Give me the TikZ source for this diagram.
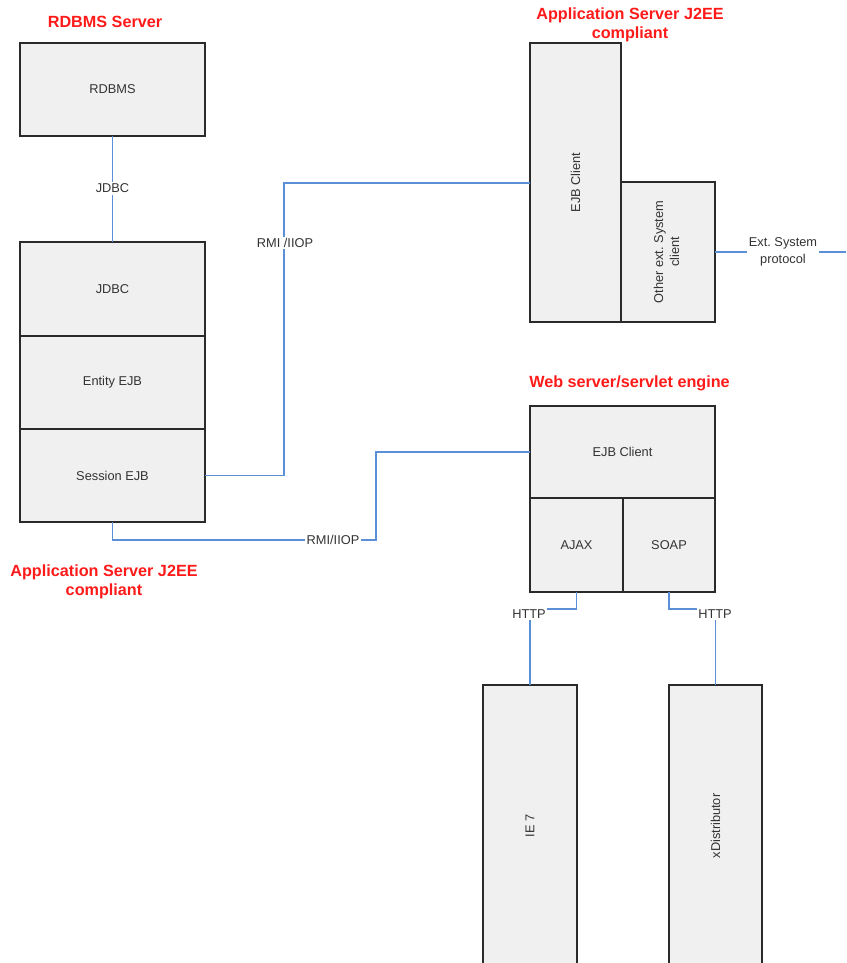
\documentclass[tikz,border=0pt]{standalone}
\usepackage{fontspec}
\setmainfont{Liberation Sans}
\frenchspacing
\definecolor{boxfill}{HTML}{F0F0F0}
\definecolor{boxline}{HTML}{2A2A2A}
\definecolor{wire}{HTML}{5B8FD6}
\definecolor{titlered}{HTML}{FF1A1A}
\definecolor{txt}{HTML}{333333}
\tikzset{
  box/.style={draw=boxline, fill=boxfill, line width=1.2pt, text=txt,
    font=\fontsize{12.8}{16}\selectfont, align=center, inner sep=0pt, outer sep=0pt},
  conn/.style={draw=wire, line width=1.2pt},
  lbl/.style={fill=white, text=txt, font=\fontsize{12.8}{16.5}\selectfont,
    align=center, inner sep=1.5pt},
  title/.style={text=titlered, font=\bfseries\fontsize{16.2}{19}\selectfont, align=center}
}
\begin{document}
\begin{tikzpicture}[x=1pt, y=-1pt]
\useasboundingbox (0,0) rectangle (846,963);
\clip (0,0) rectangle (846,963);

% group titles
\node[title] (tRdbms) at (105,22) {RDBMS Server};
\node[title] (tAppTop) at (630,25) {Application Server J2EE\\compliant};
\node[title] (tAppLow) at (104,582) {Application Server J2EE\\compliant};
\node[title] (tWeb) at (629.5,383) {Web server/servlet engine};

% database server
\node[box, minimum width=185pt, minimum height=93pt] (rdbms) at (112.5,89.5) {RDBMS};

% application server stack
\node[box, minimum width=185pt, minimum height=94pt] (jdbc) at (112.5,289) {JDBC};
\node[box, minimum width=185pt, minimum height=93pt] (entity) at (112.5,382.5) {Entity EJB};
\node[box, minimum width=185pt, minimum height=93pt] (sess) at (112.5,475.5) {Session EJB};

% upper application server
\node[box, minimum width=91pt, minimum height=279pt] (ejbc) at (575.5,182.5) {\rotatebox{90}{EJB Client}};
\node[box, minimum width=94pt, minimum height=140pt] (other) at (668,252) {\rotatebox{90}{\begin{tabular}{@{}c@{}}Other ext. System\\client\end{tabular}}};

% web server
\node[box, minimum width=185pt, minimum height=92pt] (webejb) at (622.5,452) {EJB Client};
\node[box, minimum width=93pt, minimum height=94pt] (ajax) at (576.5,545) {AJAX};
\node[box, minimum width=92pt, minimum height=94pt] (soap) at (669,545) {SOAP};

% clients
\node[box, minimum width=94pt, minimum height=282pt] (ie) at (530,826) {\rotatebox{90}{IE 7}};
\node[box, minimum width=93pt, minimum height=282pt] (xd) at (715.5,826) {\rotatebox{90}{xDistributor}};

% connectors
\coordinate (rmiTop) at (284,183);
\coordinate (rmiLow) at (376,540);
\coordinate (httpA) at (530,609);
\coordinate (httpS) at (715.5,609);
\coordinate (extEnd) at (846,252);

\draw[conn] (rdbms.south) -- (jdbc.north);
\draw[conn] (sess.east) -| (rmiTop) -- (ejbc.west |- rmiTop);
\draw[conn] (sess.south) |- (rmiLow) |- (webejb.west);
\draw[conn] (ajax.south) |- (httpA) -- (ie.north);
\draw[conn] (soap.south) |- (httpS) -- (xd.north);
\draw[conn] (other.east) -- (extEnd);

% connector labels
\node[lbl] (lJdbc) at (112.5,188.5) {JDBC};
\node[lbl] (lRmi1) at (285,243) {RMI /IIOP};
\node[lbl] (lRmi2) at (333,540) {RMI/IIOP};
\node[lbl] (lHttpA) at (529,614) {HTTP};
\node[lbl] (lHttpS) at (715,614) {HTTP};
\node[lbl] (lExt) at (783,252) {Ext. System\\protocol};
\end{tikzpicture}
\end{document}
